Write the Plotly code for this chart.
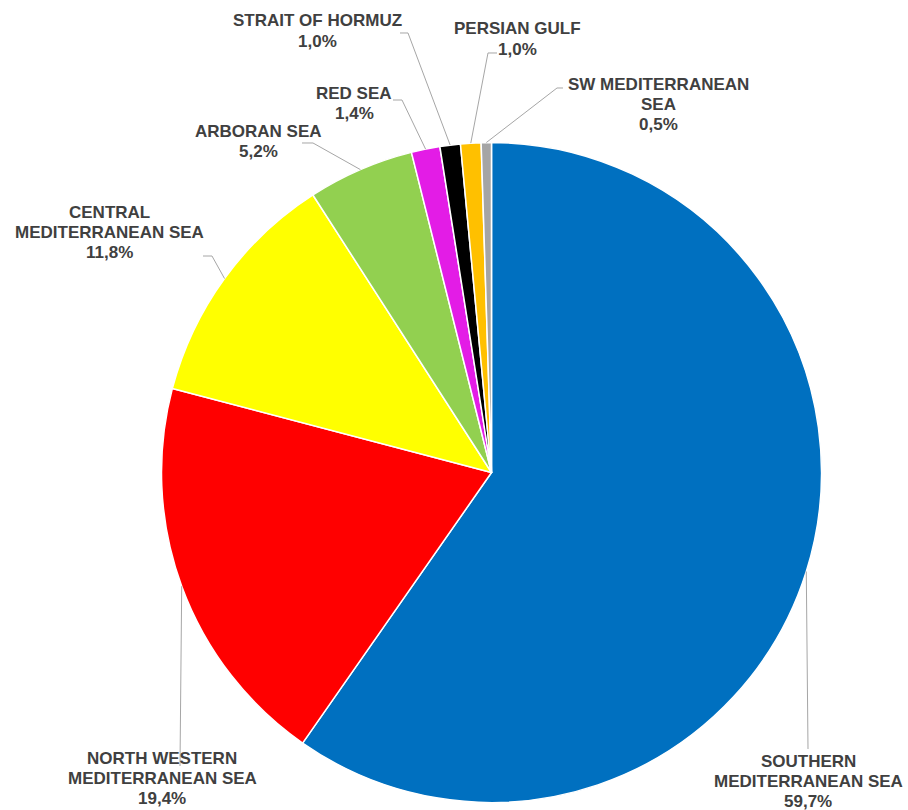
import math
import plotly.graph_objects as go

# Share of records by sea area (%), clockwise from 12 o'clock
regions = [
    "SOUTHERN MEDITERRANEAN SEA",
    "NORTH WESTERN MEDITERRANEAN SEA",
    "CENTRAL MEDITERRANEAN SEA",
    "ARBORAN SEA",
    "RED SEA",
    "STRAIT OF HORMUZ",
    "PERSIAN GULF",
    "SW MEDITERRANEAN SEA",
]
shares = [59.7, 19.4, 11.8, 5.2, 1.4, 1.0, 1.0, 0.5]
label_lines = [
    ["SOUTHERN", "MEDITERRANEAN SEA"],
    ["NORTH WESTERN", "MEDITERRANEAN SEA"],
    ["CENTRAL", "MEDITERRANEAN SEA"],
    ["ARBORAN SEA"],
    ["RED SEA"],
    ["STRAIT OF HORMUZ"],
    ["PERSIAN GULF"],
    ["SW MEDITERRANEAN", "SEA"],
]
colors = ["#0070C0", "#FF0000", "#FFFF00", "#92D050",
          "#E31CE6", "#000000", "#FFC000", "#A5A5A5"]

# Canvas and pie geometry (pixels)
W, H = 908, 810
CX, CY, R = 491.5, 472.5, 330.0

# Label block placement: centre x, centre y of first line
label_pos = [
    (808, 761), (162, 758), (109, 212), (258, 131.5),
    (354, 93), (317, 21), (517, 29), (658, 84),
]
LINE_STEP = 20.3
# Leader line points from the label up to (not including) the slice edge
leader_from = [
    [(808, 749)],
    [(180, 766)],
    [(203, 256), (212, 256)],
    [(302, 143), (313, 143)],
    [(393, 100), (402, 100)],
    [(400, 33), (408, 33)],
    [(497, 53), (488, 53)],
    [(563, 88), (557, 88)],
]

TEXT_COLOR = "#404040"
LINE_COLOR = "#A6A6A6"
FONT = "Liberation Sans, Arial, sans-serif"


def px(x, y):
    return x / W, 1 - y / H


def fmt_pct(v):
    return f"{v:.1f}".replace(".", ",") + "%"


fig = go.Figure(
    go.Pie(
        labels=regions,
        values=shares,
        sort=False,
        direction="clockwise",
        rotation=0,
        marker=dict(colors=colors, line=dict(color="white", width=1.5)),
        textinfo="none",
        hoverinfo="label+percent",
        showlegend=False,
        domain=dict(x=[(CX - R) / W, (CX + R) / W],
                    y=[1 - (CY + R) / H, 1 - (CY - R) / H]),
    )
)

total = sum(shares)
cum = 0.0
shapes = []
annotations = []
for i, v in enumerate(shares):
    theta = 2 * math.pi * (cum + v / 2) / total
    cum += v
    ex = CX + R * math.sin(theta)
    ey = CY - R * math.cos(theta)
    pts = leader_from[i] + [(ex, ey)]
    path = ""
    for k, (x, y) in enumerate(pts):
        fx, fy = px(x, y)
        path += ("M" if k == 0 else " L") + f" {fx:.5f},{fy:.5f}"
    shapes.append(dict(type="path", path=path, xref="paper", yref="paper",
                       line=dict(color=LINE_COLOR, width=1)))

    lines = label_lines[i] + [fmt_pct(v)]
    lx, ly = label_pos[i]
    for j, t in enumerate(lines):
        fx, fy = px(lx, ly + j * LINE_STEP)
        annotations.append(dict(
            text=t, x=fx, y=fy, xref="paper", yref="paper",
            xanchor="center", yanchor="middle", showarrow=False,
            font=dict(family=FONT, size=17, color=TEXT_COLOR, weight="bold"),
        ))

fig.update_layout(
    width=W, height=H,
    margin=dict(l=0, r=0, t=0, b=0),
    paper_bgcolor="white",
    plot_bgcolor="white",
    shapes=shapes,
    annotations=annotations,
)

fig.write_html("out.html")
